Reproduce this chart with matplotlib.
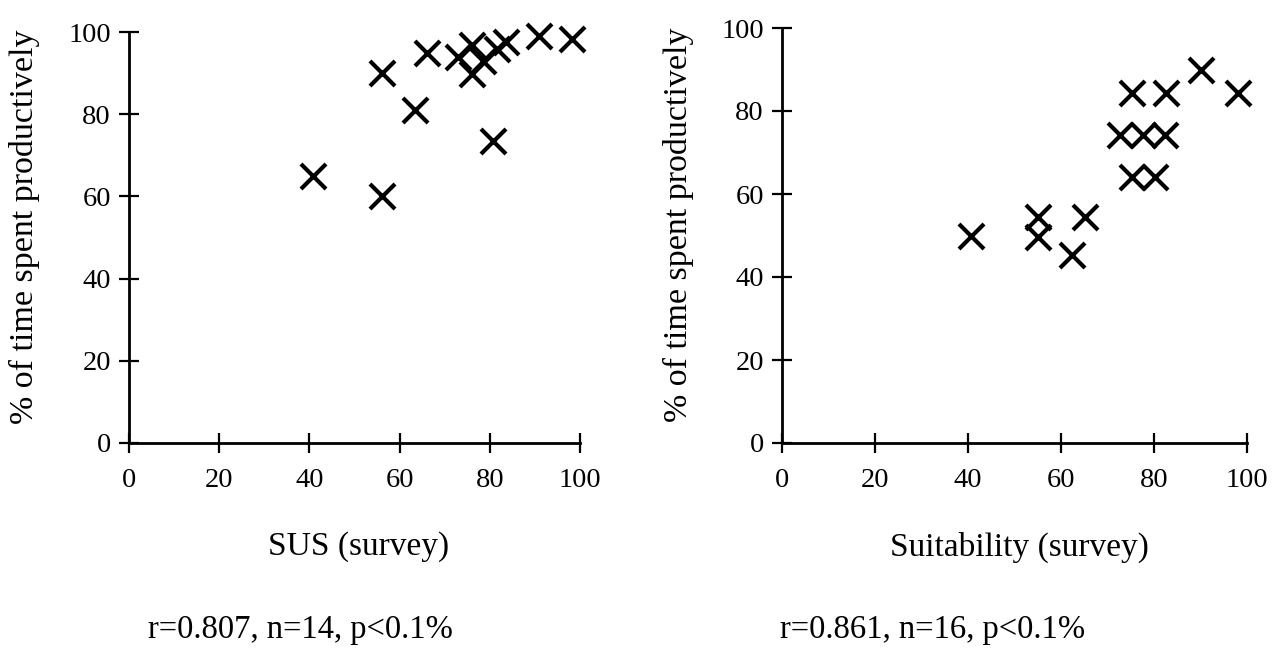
import matplotlib
matplotlib.use("Agg")
import matplotlib.pyplot as plt

# ---- data ----
sus_x = [40.7, 56, 56, 63.5, 66, 73, 76, 76, 78.6, 80.6, 81.5, 83.7, 90.8, 98.2]
sus_y = [65, 60, 90, 81, 95, 93.8, 96.8, 89.8, 93.0, 73.5, 95.8, 97.5, 99.1, 98.3]

suit_x = [40.6, 55.1, 55.1, 62.4, 65.2, 75.2, 80.2, 72.7, 77.7, 82.4, 75.2, 82.6, 90.0, 98.1]
suit_y = [49.9, 54.5, 49.7, 45.3, 54.5, 64.2, 64.2, 74.2, 74.2, 74.2, 84.4, 84.4, 89.9, 84.4]

ticks = [0, 20, 40, 60, 80, 100]
ylabel = "% of time spent productively"
xlabels = ["SUS (survey)", "Suitability (survey)"]
stats = ["r=0.807, n=14, p<0.1%", "r=0.861, n=16, p<0.1%"]

plt.rcParams['font.family'] = ['Liberation Serif', 'DejaVu Serif']

fig = plt.figure(figsize=(12.83, 6.64), dpi=100)
W, H = 1283, 664

def px_axes(x0, x1, ytop, ybot):
    return fig.add_axes([x0 / W, (H - ybot) / H, (x1 - x0) / W, (ybot - ytop) / H])

ax1 = px_axes(129, 580, 32, 443)
ax2 = px_axes(782, 1247, 28, 443)

for ax, xs, ys, xl, ylx in [(ax1, sus_x, sus_y, xlabels[0], -0.197),
                            (ax2, suit_x, suit_y, xlabels[1], -0.19)]:
    ax.plot(xs, ys, linestyle='none', marker='x', markersize=18,
            markeredgewidth=3.0, color='black', clip_on=False)
    ax.set_xlim(0, 100)
    ax.set_ylim(0, 100)
    ax.set_xticks(ticks)
    ax.set_yticks(ticks)
    for s in ['top', 'right']:
        ax.spines[s].set_visible(False)
    for s in ['left', 'bottom']:
        ax.spines[s].set_linewidth(2.0)
    ax.tick_params(direction='inout', length=14, width=1.6, labelsize=20.5, pad=6)
    ax.tick_params(axis='x', pad=11)
    ax.set_xlabel(xl, fontsize=24)
    ax.xaxis.set_label_coords(0.51, -0.215)
    ax.set_ylabel(ylabel, fontsize=24.5)
    ax.yaxis.set_label_coords(ylx, 0.525)
    ax.patch.set_alpha(0)

fig.text(148 / W, 1 - 630 / H, stats[0], fontsize=23.5, ha='left', va='center')
fig.text(780 / W, 1 - 630 / H, stats[1], fontsize=23.5, ha='left', va='center')

fig.savefig("out.png", dpi=100)
